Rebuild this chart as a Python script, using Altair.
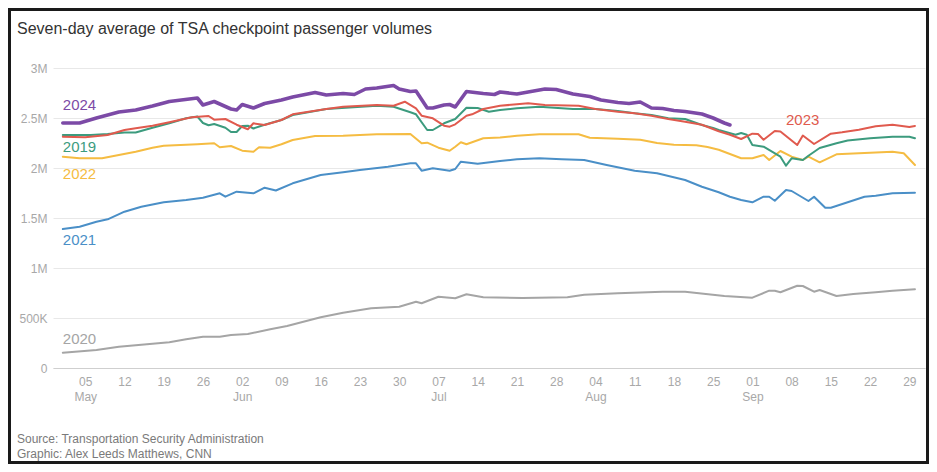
import altair as alt
import pandas as pd

# ---------------- data (values in millions of passengers) ----------------
START = pd.Timestamp("2024-05-01")  # day offset 0 = May 1

TITLE = "Seven-day average of TSA checkpoint passenger volumes"
SOURCE_LINES = ["Source: Transportation Security Administration",
                "Graphic: Alex Leeds Matthews, CNN"]

SERIES = ["2020", "2021", "2022", "2019", "2023", "2024"]          # draw order
COLORS = ["#a5a5a5", "#4a8fc7", "#f5bc42", "#3c9b7e", "#e05a4e", "#7c4aa6"]
WIDTHS = [2, 2, 2, 2, 2, 3.6]

DAYS_2024 = [0, 3, 6, 10, 13, 16, 19, 24, 25, 27, 30, 31, 32, 34, 36, 39, 41, 45, 47, 50,
             52, 54, 56, 59, 60, 62, 63, 65, 66, 68, 69, 70, 72, 75, 77, 78, 81, 83, 86, 88,
             91, 94, 96, 99, 101, 103, 105, 107, 109, 111, 114, 116, 118, 119]
VALS_2024 = [2.45, 2.45, 2.50, 2.56, 2.58, 2.62, 2.665, 2.70, 2.63, 2.665, 2.59, 2.58, 2.635, 2.60,
             2.645, 2.68, 2.71, 2.755, 2.73, 2.745, 2.735, 2.79, 2.80, 2.825, 2.79, 2.765, 2.77,
             2.60, 2.60, 2.63, 2.635, 2.61, 2.765, 2.745, 2.735, 2.76, 2.74, 2.76, 2.79, 2.785,
             2.74, 2.715, 2.68, 2.655, 2.645, 2.66, 2.60, 2.595, 2.575, 2.565, 2.54, 2.50, 2.45, 2.43]

DAYS_2023 = [0, 4, 8, 11, 13, 16, 19, 23, 26, 27, 29, 31, 33, 34, 36, 39, 41, 47, 50, 56,
             59, 61, 63, 64, 66, 68, 69, 70, 72, 73, 75, 78, 81, 83, 86, 92, 95, 99, 102, 105,
             108, 111, 114, 117, 119, 121, 123, 124, 125, 127, 128, 131, 132, 134, 137, 139,
             142, 145, 148, 151, 152]
VALS_2023 = [2.313, 2.307, 2.33, 2.38, 2.397, 2.423, 2.457, 2.507, 2.52, 2.483, 2.49, 2.433,
             2.387, 2.447, 2.43, 2.48, 2.537, 2.59, 2.613, 2.63, 2.623, 2.663, 2.597, 2.523,
             2.497, 2.423, 2.413, 2.437, 2.523, 2.537, 2.59, 2.623, 2.637, 2.647, 2.63, 2.623,
             2.59, 2.563, 2.547, 2.523, 2.49, 2.463, 2.433, 2.367, 2.333, 2.29, 2.343, 2.34,
             2.283, 2.37, 2.365, 2.23, 2.325, 2.24, 2.343, 2.357, 2.383, 2.417, 2.433, 2.41, 2.42]

DAYS_2019 = [0, 5, 8, 11, 13, 16, 19, 22, 24, 25, 26, 27, 29, 30, 31, 32, 33, 34, 36, 39,
             41, 47, 56, 59, 62, 63, 65, 66, 68, 70, 72, 74, 76, 78, 81, 85, 91, 95, 99, 102,
             105, 108, 111, 114, 116, 117, 120, 121, 122, 123, 125, 128, 129, 130, 132, 133,
             135, 138, 140, 144, 148, 151, 152]
VALS_2019 = [2.33, 2.33, 2.34, 2.355, 2.355, 2.403, 2.447, 2.497, 2.515, 2.45, 2.427, 2.44,
             2.403, 2.36, 2.36, 2.42, 2.423, 2.395, 2.433, 2.48, 2.53, 2.59, 2.623, 2.613,
             2.557, 2.537, 2.38, 2.38, 2.447, 2.49, 2.603, 2.60, 2.563, 2.58, 2.597, 2.613,
             2.59, 2.59, 2.57, 2.547, 2.53, 2.497, 2.49, 2.43, 2.40, 2.38, 2.333, 2.35, 2.333,
             2.23, 2.213, 2.113, 2.023, 2.097, 2.08, 2.123, 2.2, 2.247, 2.275, 2.297, 2.313,
             2.313, 2.297]

DAYS_2022 = [0, 3, 7, 10, 13, 16, 18, 21, 24, 27, 28, 30, 32, 34, 35, 37, 39, 41, 45, 50,
             56, 62, 64, 65, 67, 69, 70, 71, 72, 75, 78, 81, 85, 92, 94, 99, 103, 106, 109, 113,
             115, 117, 119, 121, 123, 125, 126, 128, 130, 132, 133, 135, 138, 142, 148, 150, 152]
VALS_2022 = [2.113, 2.097, 2.097, 2.13, 2.163, 2.203, 2.223, 2.23, 2.237, 2.247, 2.207, 2.22,
             2.173, 2.163, 2.207, 2.203, 2.237, 2.28, 2.32, 2.323, 2.337, 2.34, 2.247, 2.253,
             2.203, 2.173, 2.213, 2.257, 2.237, 2.297, 2.305, 2.323, 2.337, 2.337, 2.303, 2.293,
             2.283, 2.25, 2.233, 2.227, 2.21, 2.183, 2.14, 2.097, 2.097, 2.13, 2.08, 2.17,
             2.113, 2.08, 2.113, 2.057, 2.137, 2.147, 2.163, 2.147, 2.03]

DAYS_2021 = [0, 3, 6, 8, 11, 14, 18, 22, 25, 28, 29, 31, 34, 36, 38, 41, 46, 50, 53, 58,
             62, 63, 64, 66, 69, 70, 71, 74, 78, 81, 85, 89, 93, 97, 102, 106, 111, 114, 117, 119,
             121, 123, 125, 126, 127, 129, 130, 133, 134, 136, 137, 140, 143, 145, 148, 152]
VALS_2021 = [1.39, 1.413, 1.463, 1.487, 1.563, 1.613, 1.657, 1.68, 1.703, 1.747, 1.713, 1.763,
             1.747, 1.803, 1.775, 1.847, 1.93, 1.957, 1.98, 2.013, 2.047, 2.047, 1.973, 1.997,
             1.973, 1.99, 2.063, 2.043, 2.07, 2.087, 2.097, 2.087, 2.08, 2.03, 1.973, 1.947,
             1.88, 1.813, 1.757, 1.713, 1.68, 1.657, 1.713, 1.713, 1.673, 1.78, 1.77, 1.67,
             1.713, 1.603, 1.603, 1.657, 1.713, 1.723, 1.747, 1.753]

DAYS_2020 = [0, 6, 10, 15, 19, 22, 25, 28, 30, 33, 37, 40, 46, 50, 55, 60, 63, 64, 67, 70,
             72, 75, 82, 90, 93, 99, 107, 111, 118, 123, 126, 127, 128, 131, 132, 134, 135, 138,
             141, 145, 148, 152]
VALS_2020 = [0.153, 0.18, 0.213, 0.237, 0.257, 0.287, 0.313, 0.313, 0.33, 0.34, 0.387, 0.42,
             0.507, 0.553, 0.597, 0.613, 0.663, 0.647, 0.713, 0.697, 0.737, 0.707, 0.70, 0.707,
             0.733, 0.747, 0.763, 0.763, 0.72, 0.703, 0.773, 0.773, 0.757, 0.823, 0.82, 0.763,
             0.78, 0.72, 0.74, 0.757, 0.773, 0.787]

SERIES_DATA = {
    "2024": (DAYS_2024, VALS_2024),
    "2023": (DAYS_2023, VALS_2023),
    "2019": (DAYS_2019, VALS_2019),
    "2022": (DAYS_2022, VALS_2022),
    "2021": (DAYS_2021, VALS_2021),
    "2020": (DAYS_2020, VALS_2020),
}

# direct labels (series name, day offset, value at text baseline)
LABEL_SERIES = ["2024", "2019", "2022", "2021", "2020", "2023"]
LABEL_DAYS = [0, 0, 0, 0, 0, 129]
LABEL_VALUES = [2.58, 2.163, 1.887, 1.23, 0.24, 2.43]

Y_TICKS = [0, 0.5, 1, 1.5, 2, 2.5, 3]
Y_LABELS = ["0", "500K", "1M", "1.5M", "2M", "2.5M", "3M"]
X_TICK_DAYS = [4, 11, 18, 25, 32, 39, 46, 53, 60, 67, 74, 81, 88, 95, 102, 109, 116, 123,
               130, 137, 144, 151]


def iso(day):
    return (START + pd.Timedelta(days=day)).strftime("%Y-%m-%dT%H:%M:%S")


def dt(ts):
    ts = pd.Timestamp(ts)
    return alt.DateTime(year=ts.year, month=ts.month, date=ts.day,
                        hours=ts.hour, minutes=ts.minute)


# ---------------- layout ----------------
W, H = 872, 300
PAD = {"left": 45, "top": 60, "right": 4, "bottom": 96}
FONT = "Liberation Sans"

x_domain = [dt(START + pd.Timedelta(hours=-42)), dt(START + pd.Timedelta(days=153, hours=19))]
x_scale = alt.Scale(domain=x_domain)
y_scale = alt.Scale(domain=[0, 3], nice=False)

y_expr = "''"
for v, lab in zip(Y_TICKS, Y_LABELS):
    y_expr = f"abs(datum.value - {v}) < 0.001 ? '{lab}' : ({y_expr})"

x_axis = alt.Axis(
    values=[dt(START + pd.Timedelta(days=d)) for d in X_TICK_DAYS],
    labelExpr="date(datum.value) <= 7 ? [timeFormat(datum.value, '%d'), timeFormat(datum.value, '%b')] : timeFormat(datum.value, '%d')",
    grid=False, ticks=False, domain=True, domainColor="#cfcfcf", domainWidth=1,
    labelColor="#a8a8a8", labelFontSize=12, labelFont=FONT, labelPadding=8,
    labelLineHeight=15, labelFlush=False, labelOverlap=False, title=None,
)
y_axis = alt.Axis(
    values=Y_TICKS, labelExpr=y_expr, grid=True, gridColor="#e8e8e8", gridWidth=1,
    ticks=False, domain=False, labelColor="#a8a8a8", labelFontSize=12, labelFont=FONT,
    labelPadding=6, title=None,
)

rows = []
for name in SERIES:
    ds, vs = SERIES_DATA[name]
    for d, v in zip(ds, vs):
        rows.append({"series": name, "date": iso(d), "value": v})
df = pd.DataFrame(rows)

X_ENC = alt.X("date:T", scale=x_scale, axis=x_axis)
Y_ENC = alt.Y("value:Q", scale=y_scale, axis=y_axis)

layers = []
for name, color, w in zip(SERIES, COLORS, WIDTHS):
    sub = df[df["series"] == name]
    layers.append(
        alt.Chart(sub).mark_line(color=color, strokeWidth=w, strokeJoin="round", strokeCap="round").encode(
            x=X_ENC, y=Y_ENC,
        )
    )

labels_df = pd.DataFrame({
    "series": LABEL_SERIES,
    "date": [iso(d) for d in LABEL_DAYS],
    "value": LABEL_VALUES,
})
labels = alt.Chart(labels_df).mark_text(
    align="left", baseline="alphabetic", fontSize=15, font=FONT
).encode(
    x=X_ENC, y=Y_ENC,
    text="series:N",
    color=alt.Color("series:N", scale=alt.Scale(domain=SERIES, range=COLORS), legend=None),
)

one = alt.Data(values=[{"a": 1}])
title = alt.Chart(one).mark_text(
    text=TITLE, align="left", baseline="middle", fontSize=16, font=FONT, color="#333333"
).encode(x=alt.value(-36), y=alt.value(-39))

src1 = alt.Chart(one).mark_text(
    text=SOURCE_LINES[0], align="left", baseline="middle", fontSize=12, font=FONT, color="#7a7a7a"
).encode(x=alt.value(-36), y=alt.value(371))
src2 = alt.Chart(one).mark_text(
    text=SOURCE_LINES[1], align="left", baseline="middle", fontSize=12, font=FONT, color="#7a7a7a"
).encode(x=alt.value(-36), y=alt.value(386))

frame = alt.Chart(one).mark_rect(
    fillOpacity=0, stroke="#1a1a1a", strokeWidth=3
).encode(
    x=alt.value(-PAD["left"] + 1.5), x2=alt.value(W + PAD["right"] - 1.5),
    y=alt.value(-PAD["top"] + 1.5), y2=alt.value(H + PAD["bottom"] - 1.5),
)

chart = alt.layer(*layers, labels, title, src1, src2, frame).properties(
    width=W, height=H, padding=PAD, autosize=alt.AutoSizeParams(type="none"),
    background="white",
).configure_view(strokeWidth=0)

chart.save("out.html", embed_options={"renderer": "svg", "actions": False})
